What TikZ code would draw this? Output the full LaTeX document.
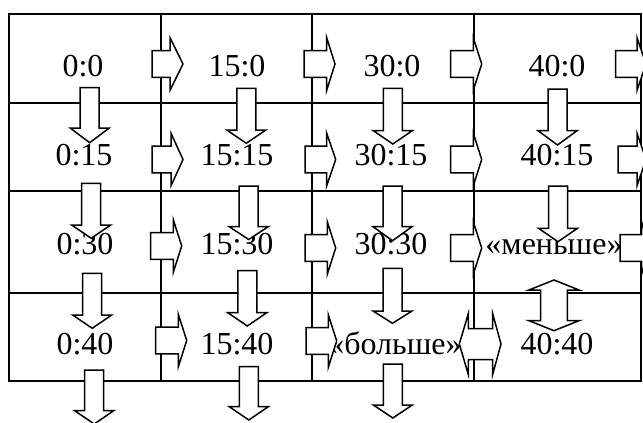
\documentclass[tikz,border=0pt]{standalone}
\usepackage{fontspec}
\setmainfont{Liberation Serif}
\tikzset{
  gridline/.style={line width=2pt},
  blockarrow/.style={draw, fill=white, line width=1.5pt, line join=miter},
  lbl/.style={anchor=base, inner sep=0pt, font=\fontsize{32}{38}\selectfont},
}
% right block arrow: x start, x head base, x tip, y centre
\newcommand\RArr[4]{\draw[blockarrow] (#1,#4-13.3) -- (#2,#4-13.3) -- (#2,#4-26.3) -- (#3,#4) -- (#2,#4+26.3) -- (#2,#4+13.3) -- (#1,#4+13.3) -- cycle;}
% down block arrow: x centre, y start, y head base, y tip
\newcommand\DArr[4]{\draw[blockarrow] (#1-9.5,#2) -- (#1-9.5,#3) -- (#1-19.5,#3) -- (#1,#4) -- (#1+19.5,#3) -- (#1+9.5,#3) -- (#1+9.5,#2) -- cycle;}
\begin{document}
\begin{tikzpicture}[x=1pt,y=-1pt]
\path[use as bounding box, clip] (0,0) rectangle (643,423);
% grid
\draw[gridline] (9,14) rectangle (641,381);
\draw[gridline] (161,14) -- (161,381) (312,14) -- (312,381) (474,14) -- (474,381);
\draw[gridline] (9,103) -- (641,103) (9,191) -- (641,191) (9,293) -- (641,293);
% labels
\node[lbl] (a00) at (83,76.7) {0:0};
\node[lbl] (a10) at (237,76.7) {15:0};
\node[lbl] (a20) at (392,76.7) {30:0};
\node[lbl] (a30) at (557,76.7) {40:0};
\node[lbl] (a01) at (84,165) {0:15};
\node[lbl] (a11) at (237,165) {15:15};
\node[lbl] (a21) at (391,165) {30:15};
\node[lbl] (a31) at (557,165) {40:15};
\node[lbl] (a02) at (85,254) {0:30};
\node[lbl] (a12) at (237,254) {15:30};
\node[lbl] (a22) at (391,254) {30:30};
\node[lbl] (a32) at (554,254) {«меньше»};
\node[lbl] (a03) at (85,354) {0:40};
\node[lbl] (a13) at (237,354) {15:40};
\node[lbl] (a23) at (395,354) {«больше»};
\node[lbl] (a33) at (557,354) {40:40};
% right arrows
\RArr{152}{170}{183}{64}
\RArr{304}{326.7}{335}{64}
\RArr{450.7}{473.3}{481.7}{64}
\RArr{615.5}{637}{646}{64}
\RArr{152}{171}{183}{159.5}
\RArr{305}{326.7}{335.7}{159.5}
\RArr{450.7}{473.3}{481.7}{159.5}
\RArr{618}{637}{646}{159.5}
\RArr{150.7}{173.3}{181.7}{246}
\RArr{305}{327.3}{335.7}{248}
\RArr{450.7}{473.3}{481.7}{248}
\RArr{620}{641.5}{650}{248}
\RArr{155.7}{178.3}{186.7}{340.5}
\RArr{306}{328.3}{336.7}{341}
% down arrows
\DArr{89.7}{87.7}{128}{142.7}
\DArr{91.2}{183.3}{225}{238.3}
\DArr{92.2}{273.3}{315}{328.3}
\DArr{94.2}{370}{410.7}{424}
\DArr{246.3}{88.3}{130}{143.3}
\DArr{248.7}{186}{226.7}{239.5}
\DArr{247.3}{270.7}{312.7}{326}
\DArr{248.8}{366.7}{406.7}{420}
\DArr{392.8}{88.3}{130.7}{144}
\DArr{392.5}{186}{226.7}{240.7}
\DArr{392.5}{268.3}{311}{323.3}
\DArr{392.8}{364}{405}{418}
\DArr{557.5}{89}{130.7}{145}
\DArr{558}{186}{228.3}{241.7}
% double arrows
\draw[blockarrow] (459.3,344) -- (468.3,313.7) -- (468.3,328.5) -- (492.7,328.5) -- (492.7,313.7) -- (501,344) -- (492.7,374.3) -- (492.7,359.5) -- (468.3,359.5) -- (468.3,374.3) -- cycle;
\draw[blockarrow] (554,280) -- (579,290) -- (567.3,290) -- (567.3,320.7) -- (579,320.7) -- (554,330.7) -- (529,320.7) -- (540.7,320.7) -- (540.7,290) -- (529,290) -- cycle;
\end{tikzpicture}
\end{document}
